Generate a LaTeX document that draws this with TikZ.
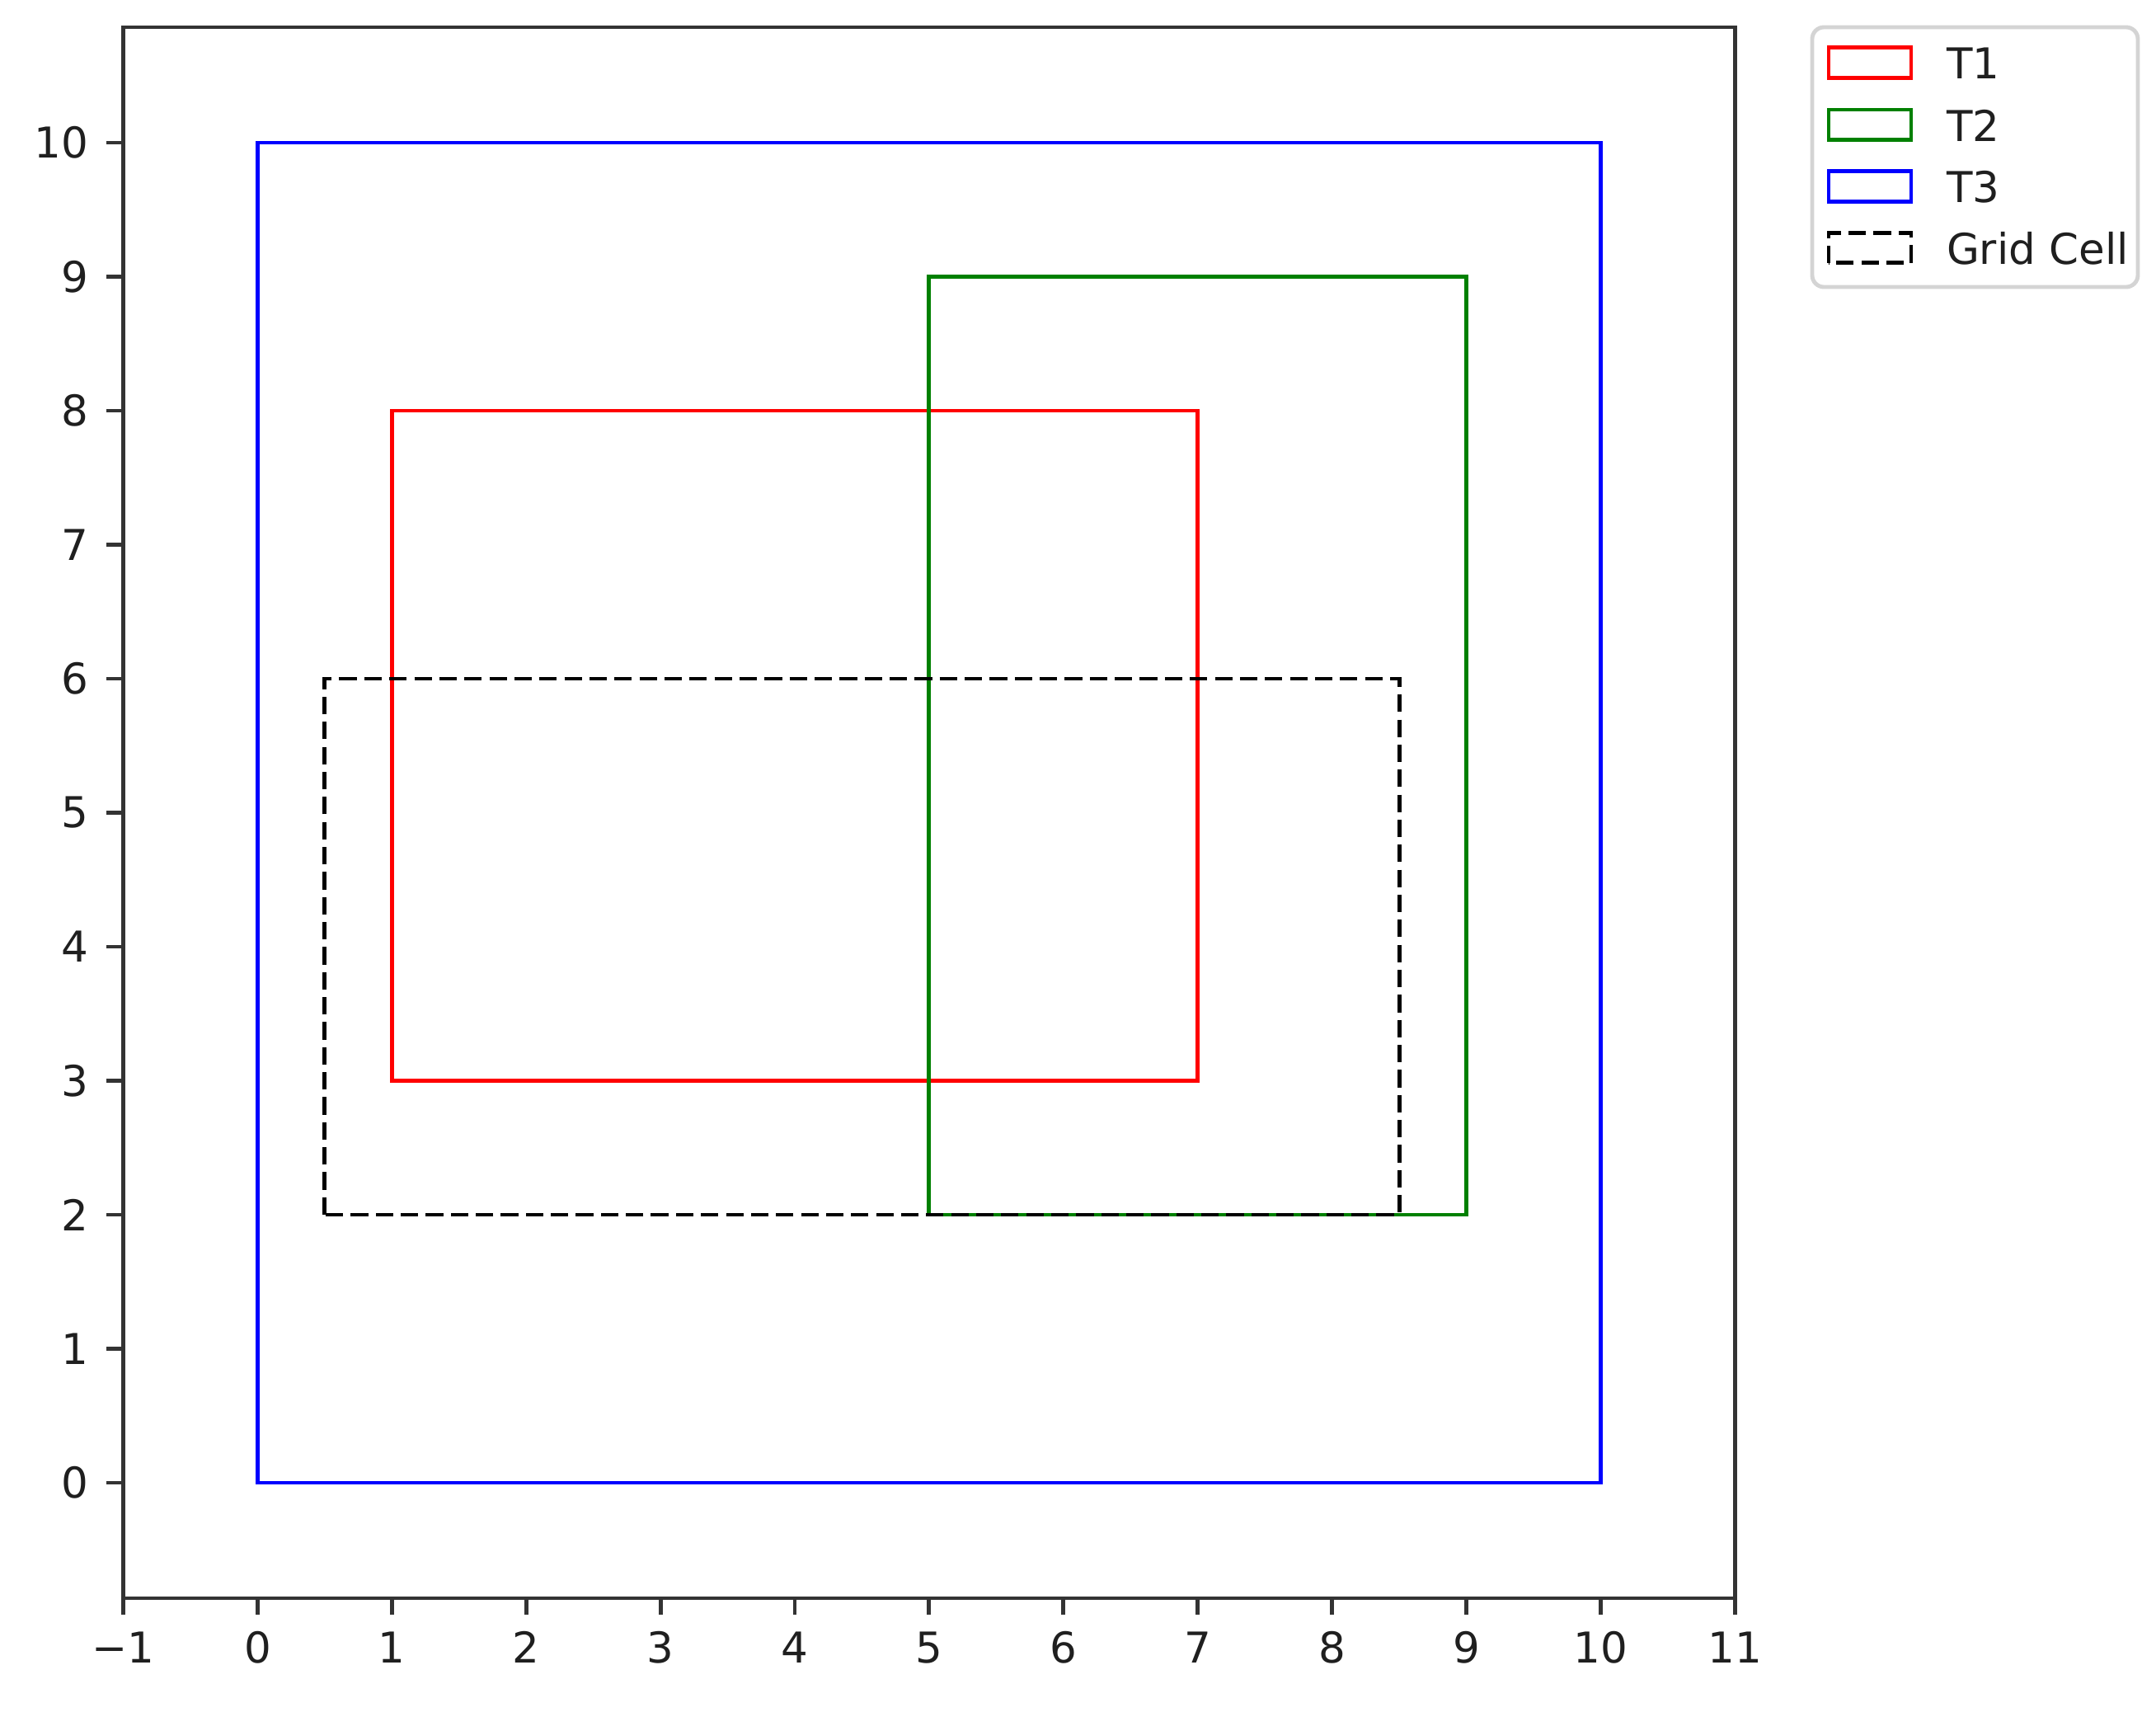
\documentclass[tikz,border=0pt]{standalone}
\usepackage{fontspec}
\setmainfont{DejaVu Sans}
\definecolor{mplgreen}{RGB}{0,128,0}
\definecolor{mplred}{RGB}{255,0,0}
\definecolor{mplblue}{RGB}{0,0,255}
\tikzset{
  spine/.style={draw=black!80, line width=0.85pt},
  tickmark/.style={draw=black!80, line width=0.85pt},
  ticklbl/.style={font=\fontsize{9.0}{11}\selectfont, text=black!88, inner sep=0pt},
  rectline/.style={line width=0.85pt},
  gridcell/.style={line width=0.85pt, draw=black, dash pattern=on 3.7pt off 1.6pt},
  legframe/.style={draw=black!17, line width=0.85pt, rounded corners=2.5pt, fill=white},
  leglbl/.style={font=\fontsize{9.0}{11}\selectfont, text=black!88, inner sep=0pt, anchor=base west},
}
\begin{document}
\begin{tikzpicture}[x=1cm,y=0.9975cm]
\useasboundingbox (-1.918,-1.711) rectangle (14.135,11.065);
% data rectangles
\draw[rectline, draw=mplred] (1,3) rectangle (7,8);
\draw[rectline, draw=mplgreen] (5,2) rectangle (9,9);
\draw[rectline, draw=mplblue] (0,0) rectangle (10,10);
\draw[gridcell] (0.5,2) rectangle (8.5,6);
% axes frame
\draw[spine] (-1,-0.8615) rectangle (11,10.862);
% x ticks
\foreach \x/\l in {-1/−1,0/0,1/1,2/2,3/3,4/4,5/5,6/6,7/7,8/8,9/9,10/10,11/11}{
  \draw[tickmark] (\x,-0.8615) -- ++(0,-0.124)
    node[ticklbl, anchor=north, yshift=-0.11cm] (xl\x) {\l};
}
% y ticks
\foreach \y in {0,...,10}{
  \draw[tickmark] (-1,\y) -- ++(-0.1235,0)
    node[ticklbl, anchor=east, xshift=-0.12cm] (yl\y) {\y};
}
% legend
\draw[legframe] (11.575,8.923) rectangle (14.0,10.862);
\draw[rectline, draw=mplred] (11.698,10.4855) rectangle (12.312,10.7105);
\draw[rectline, draw=mplgreen] (11.698,10.0215) rectangle (12.312,10.2465);
\draw[rectline, draw=mplblue] (11.698,9.5625) rectangle (12.312,9.7875);
\draw[gridcell] (11.698,9.1025) rectangle (12.312,9.3275);
\node[leglbl] (lg1) at (12.569,10.4765) {T1};
\node[leglbl] (lg2) at (12.569,10.0125) {T2};
\node[leglbl] (lg3) at (12.569,9.5535) {T3};
\node[leglbl] (lg4) at (12.569,9.0935) {Grid Cell};
\end{tikzpicture}
\end{document}
